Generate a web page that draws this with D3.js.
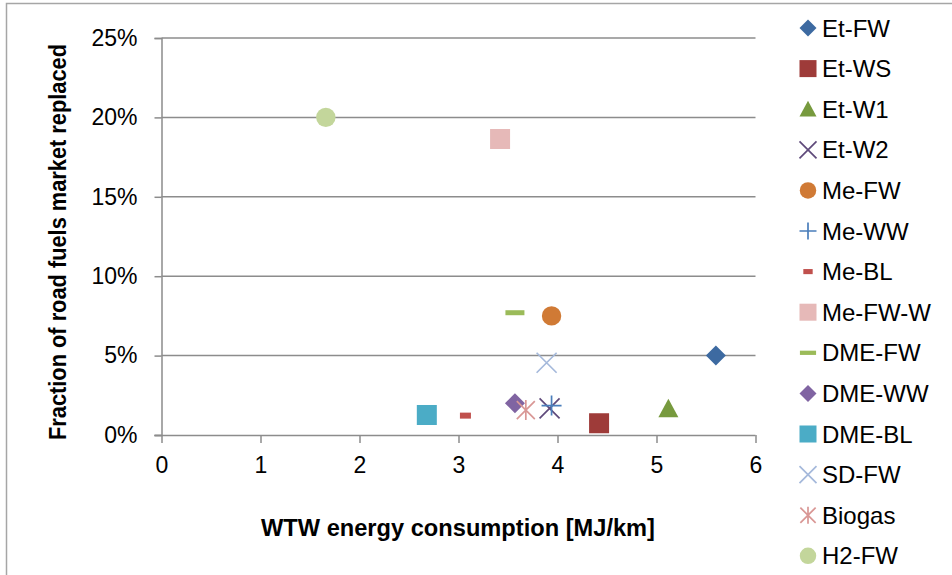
<!DOCTYPE html>
<html>
<head>
<meta charset="utf-8">
<script src="https://cdn.jsdelivr.net/npm/d3@7"></script>
<style>
  body { margin: 0; background: #fff; }
  text { font-family: "Liberation Sans", Arial, sans-serif; fill: #000; }
</style>
</head>
<body>
<script>
// series names, WTW energy use (MJ/km) and fraction of road fuel market replaced
const names = ["Et-FW", "Et-WS", "Et-W1", "Et-W2", "Me-FW", "Me-WW", "Me-BL",
  "Me-FW-W", "DME-FW", "DME-WW", "DME-BL", "SD-FW", "Biogas", "H2-FW"];
const energy = [5.60, 4.42, 5.12, 3.92, 3.94, 3.94, 3.07, 3.42, 3.57, 3.57, 2.68, 3.89, 3.68, 1.66];
const fraction = [0.050, 0.0074, 0.0165, 0.0168, 0.075, 0.0185, 0.0122, 0.1864, 0.077, 0.020, 0.0126, 0.0455, 0.0157, 0.200];
const xTicks = [0, 1, 2, 3, 4, 5, 6];
const yTicks = [0, 0.05, 0.10, 0.15, 0.20, 0.25];

// marker styles
const shapes = ["diamond", "square", "triangle", "x", "circle", "plus", "dashS",
  "square", "dashL", "diamond", "square", "x", "star", "circle"];
const colors = ["#3D6AA1", "#9E3B39", "#779A3E", "#5F4A7B", "#D07A35", "#4A7EBB", "#C0504D",
  "#E6B9B8", "#9BBB59", "#8064A2", "#4BACC6", "#A5B9DB", "#D99795", "#C3D69B"];

const W = 952, H = 575;
const svg = d3.select("body").append("svg")
  .attr("width", W).attr("height", H);

// outer chart border
svg.append("rect")
  .attr("x", 6.5).attr("y", 3.5)
  .attr("width", W).attr("height", H)
  .attr("fill", "none").attr("stroke", "#a6a6a6").attr("stroke-width", 1.5);

const x = d3.scaleLinear().domain([0, 6]).range([161.5, 755.5]);
const y = d3.scaleLinear().domain([0, 0.25]).range([435, 38]);

const grid = "#8c8c8c";

// horizontal gridlines
svg.append("g").selectAll("line")
  .data(yTicks.filter(d => d > 0))
  .enter().append("line")
  .attr("x1", x(0)).attr("x2", x(6))
  .attr("y1", d => y(d)).attr("y2", d => y(d))
  .attr("stroke", grid).attr("stroke-width", 1.5);

// y axis
const yAxis = svg.append("g")
  .attr("transform", `translate(${x(0)},0)`)
  .call(d3.axisLeft(y).tickValues(yTicks).tickSize(7).tickPadding(17)
    .tickFormat(d => Math.round(d * 100) + "%"));
yAxis.select(".domain").attr("stroke", grid).attr("stroke-width", 1.5);
yAxis.selectAll(".tick line").attr("stroke", grid).attr("stroke-width", 1.5);
yAxis.selectAll("text").style("font-size", "23px").attr("fill", "#000");

// x axis
const xAxis = svg.append("g")
  .attr("transform", `translate(0,${y(0)})`)
  .call(d3.axisBottom(x).tickValues(xTicks).tickSize(8).tickPadding(14)
    .tickFormat(d3.format("d")));
xAxis.select(".domain").attr("stroke", grid).attr("stroke-width", 1.5)
  .attr("d", `M${x(0) - 7},0.5H${x(6)}`);
xAxis.selectAll(".tick line").attr("stroke", grid).attr("stroke-width", 1.5);
xAxis.selectAll("text").style("font-size", "23px").attr("fill", "#000");

// axis titles
svg.append("text")
  .attr("x", 458).attr("y", 536)
  .attr("text-anchor", "middle")
  .attr("textLength", 394).attr("lengthAdjust", "spacingAndGlyphs")
  .style("font-size", "23px").style("font-weight", "bold")
  .text("WTW energy consumption [MJ/km]");

svg.append("text")
  .attr("transform", "translate(66,242) rotate(-90)")
  .attr("text-anchor", "middle")
  .attr("textLength", 396).attr("lengthAdjust", "spacingAndGlyphs")
  .style("font-size", "23px").style("font-weight", "bold")
  .text("Fraction of road fuels market replaced");

// draw one marker centred at 0,0
function marker(g, shape, color, k) {
  const s = 10 * k;
  if (shape === "diamond") {
    g.append("path").attr("d", `M0,${-s}L${s},0L0,${s}L${-s},0Z`).attr("fill", color);
  } else if (shape === "square") {
    g.append("rect").attr("x", -s).attr("y", -s).attr("width", 2 * s).attr("height", 2 * s)
      .attr("fill", color);
  } else if (shape === "triangle") {
    g.append("path").attr("d", `M0,${-s}L${s},${s * 0.85}L${-s},${s * 0.85}Z`).attr("fill", color);
  } else if (shape === "circle") {
    g.append("circle").attr("r", s * 0.97).attr("fill", color);
  } else if (shape === "x") {
    g.append("path").attr("d", `M${-s},${-s}L${s},${s}M${-s},${s}L${s},${-s}`)
      .attr("stroke", color).attr("stroke-width", 1.7).attr("fill", "none");
  } else if (shape === "plus") {
    g.append("path").attr("d", `M${-s},0H${s}M0,${-s}V${s}`)
      .attr("stroke", color).attr("stroke-width", 1.7).attr("fill", "none");
  } else if (shape === "star") {
    g.append("path").attr("d", `M${-s * 0.9},${-s * 0.9}L${s * 0.9},${s * 0.9}M${-s * 0.9},${s * 0.9}L${s * 0.9},${-s * 0.9}M0,${-s}V${s}`)
      .attr("stroke", color).attr("stroke-width", 1.7).attr("fill", "none");
  } else if (shape === "dashS") {
    g.append("rect").attr("x", -5.5 * k).attr("y", -3 * k).attr("width", 11 * k).attr("height", 6 * k)
      .attr("fill", color);
  } else if (shape === "dashL") {
    g.append("rect").attr("x", -9.5 * k).attr("y", -2.5 * k).attr("width", 19 * k).attr("height", 5 * k)
      .attr("fill", color);
  }
}

// points
const points = svg.append("g").selectAll("g")
  .data(names.map((n, i) => ({ name: n, ex: energy[i], fr: fraction[i], shape: shapes[i], color: colors[i] })))
  .enter().append("g")
  .attr("transform", d => `translate(${x(d.ex)},${y(d.fr)})`);
points.each(function (d) { marker(d3.select(this), d.shape, d.color, 1); });

// legend
const leg = svg.append("g").selectAll("g")
  .data(names.map((n, i) => ({ name: n, shape: shapes[i], color: colors[i] })))
  .enter().append("g")
  .attr("transform", (d, i) => `translate(808,${28 + i * 40.6})`);
leg.each(function (d) { marker(d3.select(this), d.shape, d.color, 0.85); });
leg.append("text")
  .attr("x", 14).attr("dy", "0.36em")
  .style("font-size", "24px")
  .text(d => d.name);
</script>
</body>
</html>
